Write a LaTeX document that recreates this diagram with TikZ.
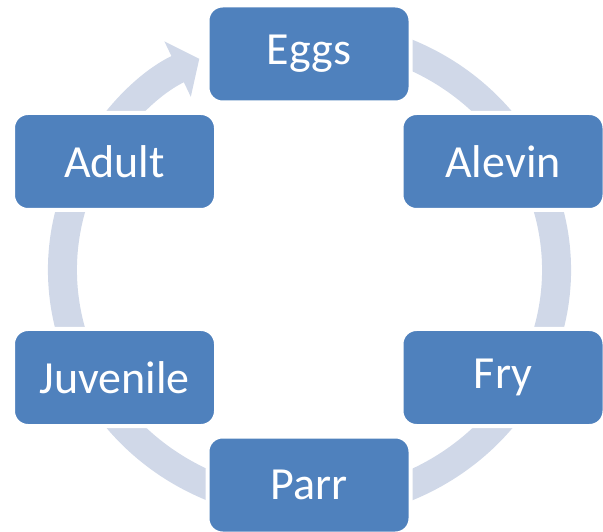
\documentclass[tikz,border=0pt]{standalone}
\usepackage{fontspec}
\setmainfont{Carlito}
\usetikzlibrary{arrows.meta}
\definecolor{stageblue}{HTML}{4F81BD}
\definecolor{ringgrey}{HTML}{D0D8E8}
\tikzset{
  stage/.style={rectangle, rounded corners=15pt, fill=stageblue, draw=white,
    line width=4pt, text=white, minimum width=203pt, minimum height=97pt,
    inner sep=0pt, font=\fontsize{46}{52}\selectfont},
  cycle/.style={ringgrey, line width=29pt, -{Triangle[width=60pt,length=24pt]}}
}

\begin{document}
\begin{tikzpicture}[x=1pt,y=1pt]
    \useasboundingbox (0,0) rectangle (603,531);
    \coordinate (mid) at (309.5,261);
    \draw [cycle] (mid) ++(70:247 and 236)
        arc[start angle=70, end angle=-243.5, x radius=247, y radius=236];
    \node[stage] (eggs) at (309,477) {Eggs};
    \node[stage] (alevin) at (503,369.5) {Alevin};
    \node[stage] (fry) at (503,153.5) {Fry};
    \node[stage] (parr) at (309,46) {Parr};
    \node[stage] (juvenile) at (114.5,153.5) {Juvenile};
    \node[stage] (adult) at (114.5,369.5) {Adult};
\end{tikzpicture}
\end{document}
